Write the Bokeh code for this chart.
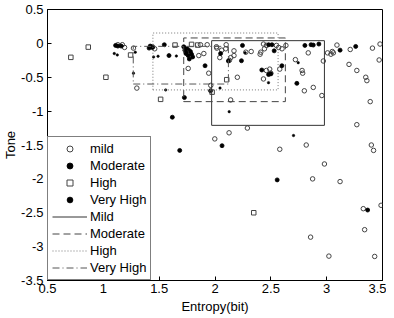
from bokeh.plotting import figure
from bokeh.models import Range1d, FixedTicker, Legend, LegendItem
from bokeh.embed import file_html
from bokeh.resources import INLINE

# ---- data ----
mild_x = [1.13, 1.17, 1.19, 1.27, 1.30, 1.44, 1.46, 1.76, 1.855, 1.87, 1.90, 1.93, 1.944, 1.962, 1.998,
          2.013, 2.016, 2.043, 2.06, 2.096, 2.10, 2.129, 2.141, 2.17, 2.17, 2.20, 2.14, 2.126, 2.29, 2.276,
          2.324, 2.404, 2.41, 2.434, 2.443, 2.46, 2.46, 2.49, 2.50, 2.434, 2.58, 2.55, 2.57, 2.60, 2.635,
          2.72, 2.78, 2.785, 2.80, 2.835, 2.88, 2.957, 2.97, 3.008, 3.038, 3.05, 3.06, 3.092, 3.211, 3.20,
          3.27, 3.35, 3.36, 3.39, 3.41, 3.47, 3.478, 2.58, 2.817, 3.27, 3.40, 3.42, 2.98, 2.874, 3.12,
          3.328, 3.487, 3.34, 2.856, 3.02, 3.43]
mild_y = [-0.02, -0.02, -0.06, -0.07, -0.66, -0.05, -0.08, -0.37, -0.18, -0.02, -0.15, -0.02, -0.44, -0.62, -1.41,
          -0.05, -0.07, -0.21, -0.10, -0.08, -0.02, -0.25, -0.21, -0.11, -0.18, -0.50, -0.835, -1.32, -1.25, -0.13,
          -0.12, -0.16, -0.13, -0.01, -0.08, -0.03, -0.40, -0.38, -0.44, -0.525, -0.38, -0.03, -0.06, -0.08, -0.03,
          -0.24, -0.40, -0.44, -0.70, -0.14, -0.65, -0.77, -0.26, -0.14, -0.16, -0.12, -0.14, -0.025, -0.09, -0.31,
          -0.40, -0.50, -0.55, -0.86, -0.07, -0.245, -0.01, -1.563, -1.50, -1.20, -1.50, -1.58, -1.78, -2.0, -2.04,
          -2.44, -2.39, -2.75, -2.86, -3.14, -3.145]

moderate_x = [1.11, 1.13, 1.16, 1.41, 1.42, 1.44, 1.546, 1.588, 1.618, 1.684, 1.72, 1.73, 1.74, 1.75, 1.76,
              1.77, 1.78, 1.79, 1.80, 1.726, 1.911, 1.96, 2.05, 2.12, 2.063, 2.246, 2.237, 2.419, 2.48, 2.50,
              2.48, 2.51, 2.53, 2.599, 2.733, 2.805, 2.86, 2.88, 2.93, 3.12, 3.26, 2.557, 3.367]
moderate_y = [-0.03, -0.04, -0.04, -0.07, -0.04, -0.06, -0.02, -0.18, -1.09, -1.58, -0.05, -0.10, -0.15, -0.08, -0.18,
              -0.23, -0.12, -0.16, -0.20, -0.80, -0.33, -0.70, -0.15, -0.26, -1.51, -0.03, -0.256, -0.393, -0.46, -0.45,
              -0.02, -0.02, -0.11, -0.33, -0.59, -0.03, -0.02, -0.025, -0.01, -0.10, -0.045, -2.015, -2.46]

high_x = [0.709, 0.865, 1.023, 1.244, 1.513, 1.642, 1.79, 1.845, 1.974, 2.105, 2.347]
high_y = [-0.206, -0.055, -0.50, -0.172, -0.826, -0.025, -0.015, -0.025, -0.72, -0.536, -2.50]

veryhigh_x = [1.098, 1.125, 1.27, 1.286, 1.45, 1.49, 1.558, 1.654, 1.73, 1.75, 1.77, 2.045, 2.127, 2.27,
              2.479, 2.745, 2.703]
veryhigh_y = [-0.15, -0.17, -0.44, -0.13, -0.20, -0.19, -0.687, -0.187, -0.06, -0.13, -0.09, -0.66, -1.008, -0.14,
              -0.58, -0.285, -1.36]

# range boxes per class
box_names = ["Mild", "Moderate", "High", "Very High"]
box_left = [1.97, 1.72, 1.444, 1.268]
box_right = [2.98, 2.63, 2.565, 2.12]
box_bottom = [-1.21, -0.86, -0.687, -0.60]
box_top = [0.04, 0.08, 0.153, -0.044]

x_ticks = [0.5, 1, 1.5, 2, 2.5, 3, 3.5]
x_tick_labels = ["0.5", "1", "1.5", "2", "2.5", "3", "3.5"]
y_ticks = [0.5, 0, -0.5, -1, -1.5, -2, -2.5, -3, -3.5]
y_tick_labels = ["0.5", "0", "-0.5", "-1", "-1.5", "-2", "-2.5", "-3", "-3.5"]

FONT = "Liberation Sans"

p = figure(width=386, height=318, x_range=Range1d(0.5, 3.5), y_range=Range1d(-3.5, 0.5),
           output_backend="svg", toolbar_location=None,
           min_border_left=39, min_border_right=4, min_border_top=9, min_border_bottom=38)
p.grid.visible = False
p.outline_line_color = "black"
p.outline_line_alpha = 1
p.background_fill_color = "white"

def style_axis(ax, ticks, labels):
    ax.ticker = FixedTicker(ticks=ticks)
    ax.major_label_overrides = {t: l for t, l in zip(ticks, labels)}
    ax.major_tick_in = 4
    ax.major_tick_out = 0
    ax.minor_tick_line_color = None
    ax.axis_line_color = "black"
    ax.major_tick_line_color = "black"
    ax.major_label_text_font = FONT
    ax.major_label_text_color = "black"
    ax.major_label_text_font_size = "13px"
    ax.axis_label_text_font = FONT
    ax.axis_label_text_font_size = "13px"
    ax.axis_label_text_font_style = "normal"
    ax.axis_label_text_color = "black"

style_axis(p.xaxis[0], x_ticks, x_tick_labels)
style_axis(p.yaxis[0], y_ticks, y_tick_labels)
p.xaxis.major_label_standoff = 3
p.yaxis.major_label_standoff = 4
p.xaxis.axis_label = "Entropy(bit)"
p.yaxis.axis_label = "Tone"
p.xaxis.axis_label_standoff = 3
p.yaxis.axis_label_standoff = 0

r_mild = p.scatter(mild_x, mild_y, marker="circle", size=4.5, fill_color=None, line_color="#444444", line_width=1)
r_mod = p.scatter(moderate_x, moderate_y, marker="circle", size=4, fill_color="black", line_color="black", line_width=0.8)
r_high = p.scatter(high_x, high_y, marker="square", size=4.5, fill_color=None, line_color="#444444", line_width=1)
r_vh = p.scatter(veryhigh_x, veryhigh_y, marker="circle", size=2.5, fill_color="black", line_color="black", line_width=0.5)

dashes = ["solid", "7 4", "1 2", "7 3 1 3"]
colors = ["#333333", "#444444", "#777777", "#555555"]
box_renderers = []
for i in range(len(box_names)):
    xs = [box_left[i], box_right[i], box_right[i], box_left[i], box_left[i]]
    ys = [box_bottom[i], box_bottom[i], box_top[i], box_top[i], box_bottom[i]]
    box_renderers.append(p.line(xs, ys, line_color=colors[i], line_dash=dashes[i], line_width=1))

items = [LegendItem(label="mild", renderers=[r_mild]),
         LegendItem(label="Moderate", renderers=[r_mod]),
         LegendItem(label="High", renderers=[r_high]),
         LegendItem(label="Very High", renderers=[r_vh])]
items += [LegendItem(label=box_names[i], renderers=[box_renderers[i]]) for i in range(len(box_names))]

legend = Legend(items=items, location="bottom_left")
legend.margin = 0
legend.padding = 4
legend.spacing = 2
legend.label_height = 15
legend.glyph_height = 15
legend.glyph_width = 35
legend.label_standoff = 3
legend.label_text_font = FONT
legend.label_text_font_size = "13px"
legend.label_text_color = "black"
legend.border_line_color = "black"
legend.border_line_width = 1
legend.background_fill_color = "white"
legend.background_fill_alpha = 1
p.add_layout(legend)

open("out.html", "w").write(file_html(p, INLINE))
